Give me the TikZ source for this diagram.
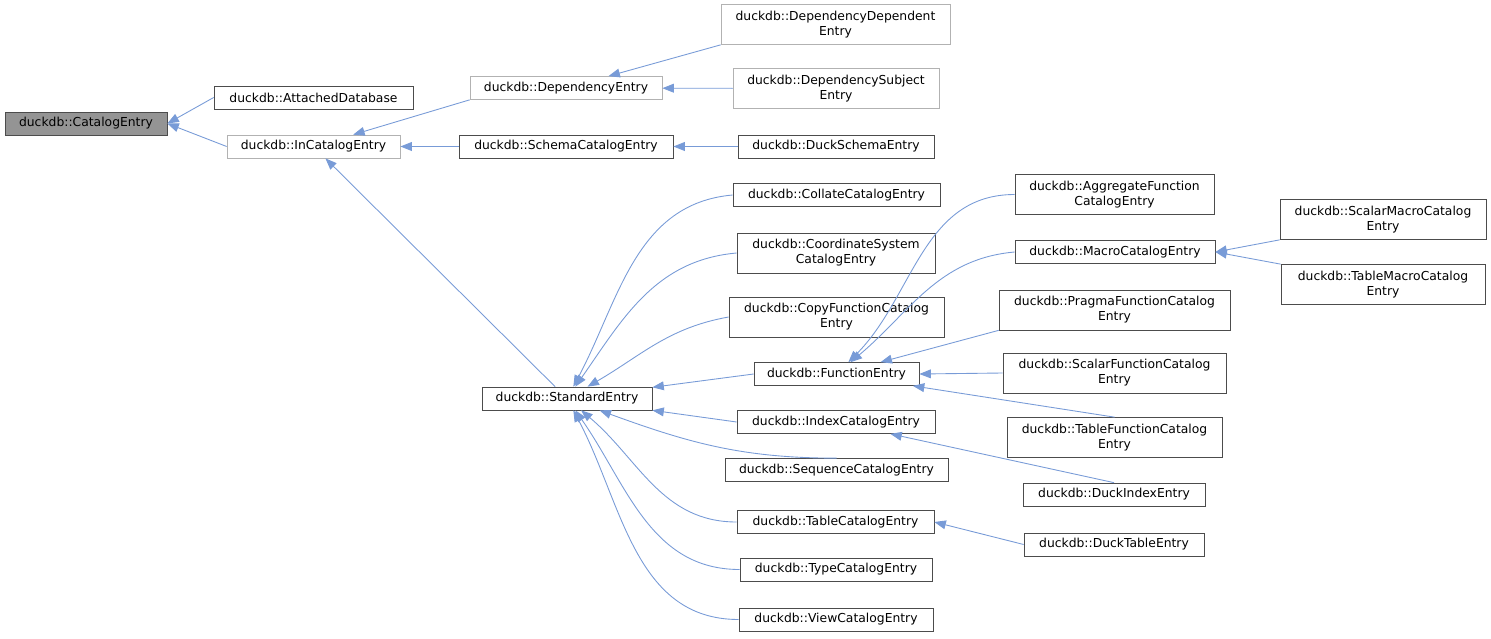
\documentclass[tikz,border=0pt]{standalone}
\usepackage{fontspec}
\setmainfont{DejaVu Sans}
\usetikzlibrary{arrows.meta}
\def\u{0.567pt}
\tikzset{
  cls/.style={draw=black!70, fill=white, inner sep=0pt, align=center,
    font=\fontsize{7}{8.6}\selectfont, minimum height=23*\u},
  two/.style={minimum height=40*\u},
  ghost/.style={draw=black!30},
  base/.style={fill=black!42},
  edge/.style={draw=cyan!45!blue!55, line width=0.5pt,
    {Triangle[length=6.5pt,width=5pt]}-}
}
\begin{document}
\begin{tikzpicture}[x=0.567pt,y=-0.567pt]
  \useasboundingbox (0,0) rectangle (1491,639);
  % first levels
  \node[cls,base,minimum width=162*\u] (cat) at (86,123.5) {duckdb::CatalogEntry};
  \node[cls,minimum width=199*\u] (att) at (313.5,97.5) {duckdb::AttachedDatabase};
  \node[cls,ghost,minimum width=173*\u] (inc) at (313.5,146.5) {duckdb::InCatalogEntry};
  \node[cls,ghost,minimum width=192*\u] (dep) at (566,88) {duckdb::DependencyEntry};
  \node[cls,minimum width=214*\u] (sch) at (566,146.5) {duckdb::SchemaCatalogEntry};
  \node[cls,ghost,two,minimum width=229*\u] (depd) at (835.5,24.5) {duckdb::DependencyDependent\\Entry};
  \node[cls,ghost,two,minimum width=206*\u] (deps) at (836,88.5) {duckdb::DependencySubject\\Entry};
  \node[cls,minimum width=196*\u] (dsch) at (836,146.5) {duckdb::DuckSchemaEntry};
  \node[cls,minimum width=170*\u] (std) at (567,398.5) {duckdb::StandardEntry};
  % standard entry children
  \node[cls,minimum width=207*\u] (coll) at (836.5,195) {duckdb::CollateCatalogEntry};
  \node[cls,two,minimum width=198*\u] (coord) at (836,253) {duckdb::CoordinateSystem\\CatalogEntry};
  \node[cls,two,minimum width=215*\u] (copy) at (836.5,317) {duckdb::CopyFunctionCatalog\\Entry};
  \node[cls,minimum width=165*\u] (func) at (836.5,374) {duckdb::FunctionEntry};
  \node[cls,minimum width=198*\u] (idx) at (836,422) {duckdb::IndexCatalogEntry};
  \node[cls,minimum width=223*\u] (seq) at (836.5,470) {duckdb::SequenceCatalogEntry};
  \node[cls,minimum width=197*\u] (tab) at (835.5,522) {duckdb::TableCatalogEntry};
  \node[cls,minimum width=192*\u] (typ) at (836,569.5) {duckdb::TypeCatalogEntry};
  \node[cls,minimum width=194*\u] (view) at (836,619.5) {duckdb::ViewCatalogEntry};
  % function entry children
  \node[cls,two,minimum width=199*\u] (agg) at (1114.5,194.5) {duckdb::AggregateFunction\\CatalogEntry};
  \node[cls,minimum width=200*\u] (mac) at (1115,252) {duckdb::MacroCatalogEntry};
  \node[cls,two,minimum width=231*\u] (prag) at (1114.5,310) {duckdb::PragmaFunctionCatalog\\Entry};
  \node[cls,two,minimum width=223*\u] (scal) at (1114.5,373) {duckdb::ScalarFunctionCatalog\\Entry};
  \node[cls,two,minimum width=215*\u] (tfun) at (1114.5,437.5) {duckdb::TableFunctionCatalog\\Entry};
  \node[cls,minimum width=182*\u] (didx) at (1114,494.5) {duckdb::DuckIndexEntry};
  \node[cls,minimum width=180*\u] (dtab) at (1114,544.5) {duckdb::DuckTableEntry};
  \node[cls,two,minimum width=206*\u] (smac) at (1383,219.5) {duckdb::ScalarMacroCatalog\\Entry};
  \node[cls,two,minimum width=204*\u] (tmac) at (1383,284.5) {duckdb::TableMacroCatalog\\Entry};
  % inheritance
  \draw[edge] (cat.east) -- (att.west);
  \draw[edge] (cat.east) -- (inc.west);
  \draw[edge] (inc) -- (dep.south west);
  \draw[edge] (inc) -- (sch);
  \draw[edge] (inc) -- (std);
  \draw[edge] (dep) -- (depd.south west);
  \draw[edge] (dep) -- (deps);
  \draw[edge] (sch) -- (dsch);
  \draw[edge] (std) to[out=62,in=185] (coll.west);
  \draw[edge] (std) to[out=55,in=185] (coord.west);
  \draw[edge] (std) to[out=30,in=190] (copy.west);
  \draw[edge] (std) -- (func.west);
  \draw[edge] (std) -- (idx.west);
  \draw[edge] (std) to[out=-20,in=180] (seq.north);
  \draw[edge] (std) to[out=-40,in=180] (tab.west);
  \draw[edge] (std) to[out=-55,in=180] (typ.west);
  \draw[edge] (std) to[out=-62,in=180] (view.west);
  \draw[edge] (func) to[out=45,in=180] (agg.west);
  \draw[edge] (func) to[out=40,in=185] (mac.west);
  \draw[edge] (func) -- (prag.south west);
  \draw[edge] (func.east) -- (scal.west);
  \draw[edge] (func) -- (tfun.north);
  \draw[edge] (idx) -- (didx.north);
  \draw[edge] (tab.east) -- (dtab.west);
  \draw[edge] (mac.east) -- (smac.south west);
  \draw[edge] (mac.east) -- (tmac.north west);
\end{tikzpicture}
\end{document}
